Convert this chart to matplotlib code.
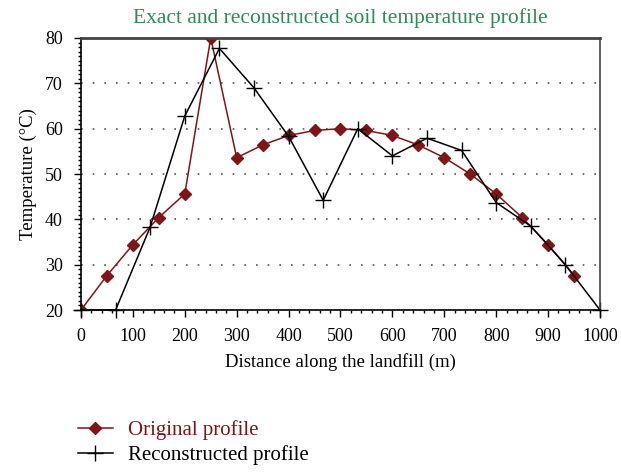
import matplotlib
matplotlib.use('Agg')
import matplotlib.pyplot as plt
from matplotlib.ticker import MultipleLocator

plt.rcParams['font.family'] = 'Liberation Serif'

# Original (exact) profile
orig_x = [0, 50, 100, 150, 200, 250, 300, 350, 400, 450, 500,
          550, 600, 650, 700, 750, 800, 850, 900, 950]
orig_y = [20, 27.6, 34.4, 40.4, 45.6, 80, 53.6, 56.4, 58.5, 59.6, 60,
          59.6, 58.5, 56.4, 53.6, 50, 45.6, 40.4, 34.4, 27.6]

# Reconstructed profile
rec_x = [0, 66.7, 133.3, 200, 266.7, 333.3, 400, 466.7, 533.3,
         600, 666.7, 733.3, 800, 866.7, 933.3, 1000]
rec_y = [20, 20, 38.3, 62.8, 77.7, 69.0, 58.3, 44.2, 60.0,
         54.0, 57.9, 55.2, 43.7, 38.5, 30.0, 20]

red = '#7e1518'
green = '#2e8b57'

fig = plt.figure(figsize=(6.21, 4.72), dpi=100)
ax = fig.add_axes([0.1304, 0.3432, 0.8358, 0.5763])

ax.plot(orig_x, orig_y, color=red, marker='D', markersize=6, linewidth=1.1,
        label='Original profile')
ax.plot(rec_x, rec_y, color='black', marker='+', markersize=12, markeredgewidth=1.0,
        linewidth=1.1, label='Reconstructed profile', clip_on=False)

ax.set_xlim(0, 1000)
ax.set_ylim(20, 80)
ax.xaxis.set_major_locator(MultipleLocator(100))
ax.xaxis.set_minor_locator(MultipleLocator(20))
ax.yaxis.set_major_locator(MultipleLocator(10))
ax.yaxis.set_minor_locator(MultipleLocator(1))
ax.tick_params(which='major', direction='out', length=5, width=1, labelsize=13, pad=8)
ax.tick_params(which='minor', direction='out', length=2.5, width=1)

for y in [30, 40, 50, 60, 70]:
    ax.axhline(y, color='#555555', linestyle=(0, (1, 6)), linewidth=1.2, zorder=0)

for s in ['left', 'bottom', 'right']:
    ax.spines[s].set_linewidth(1.2)
ax.spines['right'].set_color('#444444')
ax.spines['top'].set_color('#444444')
ax.spines['top'].set_linewidth(2)

ax.set_xlabel('Distance along the landfill (m)', fontsize=13.5, labelpad=6)
ax.set_ylabel('Temperature (°C)', fontsize=13.5, labelpad=6)
ax.set_title('Exact and reconstructed soil temperature profile', color=green,
             fontsize=15.5, pad=11)

fig.legend(loc='lower left', bbox_to_anchor=(0.095, -0.025), frameon=False,
           fontsize=15, labelcolor='linecolor', handlelength=1.7,
           handletextpad=0.7, labelspacing=0.25)

fig.savefig('out.png', dpi=100)
